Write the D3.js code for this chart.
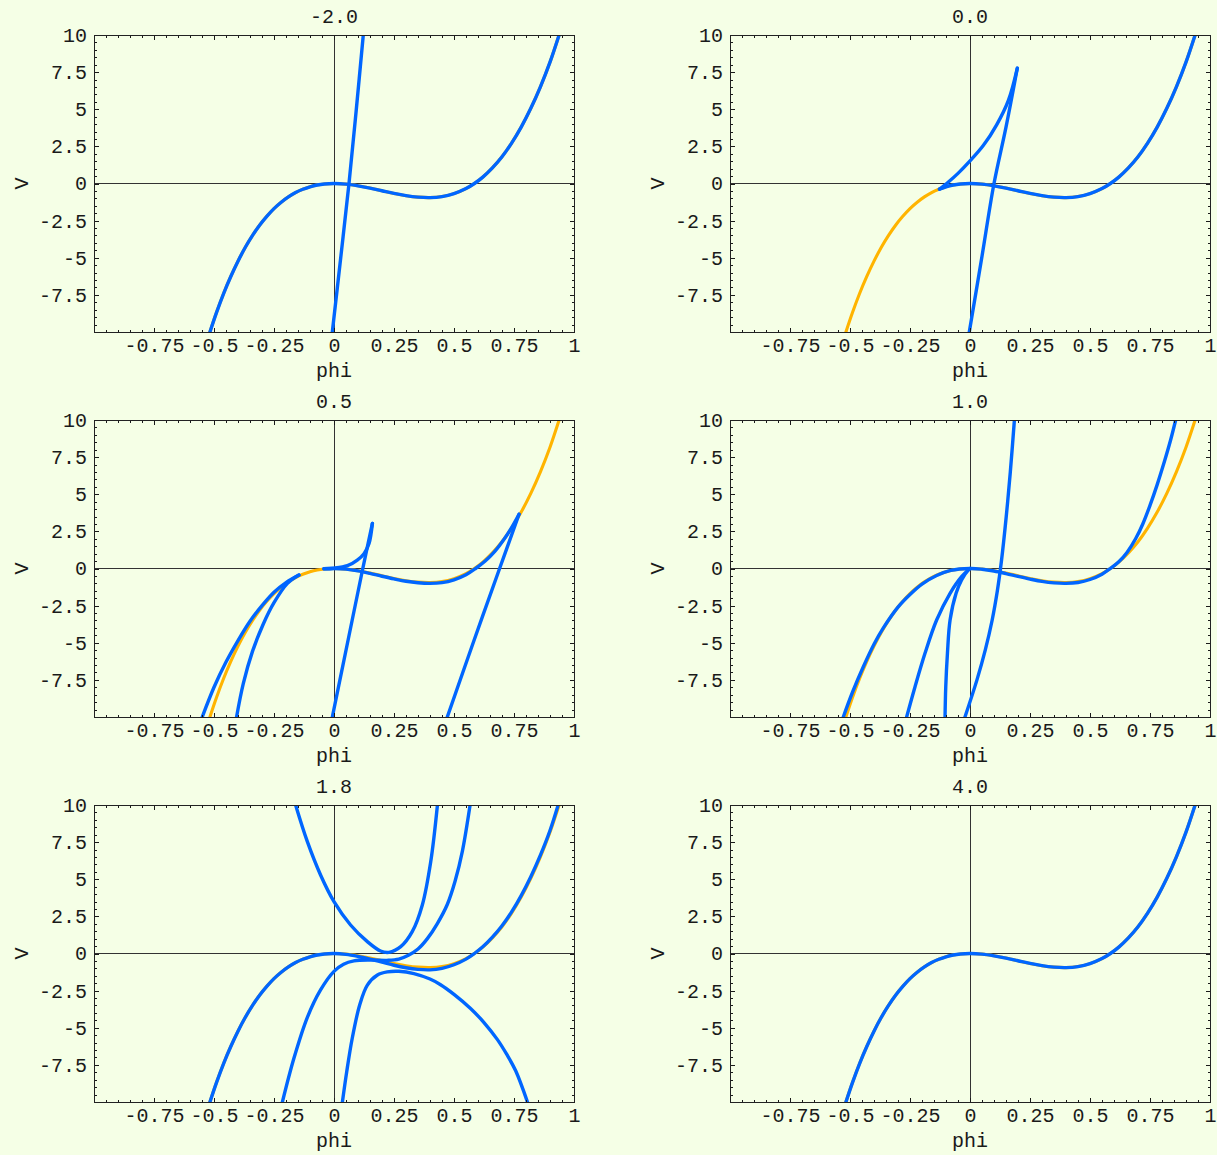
<!DOCTYPE html>
<html>
<head>
<meta charset="utf-8">
<script src="https://cdn.jsdelivr.net/npm/d3@7"></script>
<style>
  body { margin: 0; background: #f5ffe6; }
</style>
</head>
<body>
<div id="chart"></div>
<script>
const width = 1217,
    height = 1155,
    plotW = 480,
    plotH = 297,
    margin = { left: 94, top: 35 },
    colStep = 636,
    rowStep = 385;

const font = "'Liberation Mono', 'Courier New', monospace";
const fontSize = 20;

// tick labels
const phiTicks = [-0.75, -0.5, -0.25, 0, 0.25, 0.5, 0.75, 1];
const vTicks = [-7.5, -5, -2.5, 0, 2.5, 5, 7.5, 10];
const titles = ["-2.0", "0.0", "0.5", "1.0", "1.8", "4.0"];

// the potential V(phi), orange, same in every panel  [phi, V]
const potential = [
    [-0.517, -10], [-0.49, -8.71], [-0.46, -7.41], [-0.43, -6.26], [-0.40, -5.23],
    [-0.37, -4.31], [-0.34, -3.51], [-0.31, -2.81], [-0.28, -2.21], [-0.25, -1.69],
    [-0.22, -1.26], [-0.19, -0.9], [-0.16, -0.61], [-0.13, -0.39], [-0.10, -0.22],
    [-0.07, -0.1], [-0.04, -0.03], [0, 0], [0.05, -0.04], [0.10, -0.155],
    [0.15, -0.31], [0.20, -0.49], [0.25, -0.67], [0.30, -0.82], [0.35, -0.92],
    [0.40, -0.95], [0.45, -0.88], [0.50, -0.68], [0.55, -0.34], [0.585, 0],
    [0.62, 0.43], [0.66, 1.05], [0.70, 1.8], [0.74, 2.72], [0.78, 3.8],
    [0.82, 5.06], [0.86, 6.51], [0.90, 8.17], [0.938, 10]
];

// blue curves, panel by panel
const p1Steep = [[-0.007, -10], [0.028, -5], [0.0625, 0], [0.093, 5], [0.122, 10]];

const p2Upper = [[-0.127, -0.38], [-0.09, 0.1], [-0.05, 0.68], [0, 1.52], [0.056, 2.57],
    [0.111, 3.95], [0.16, 5.6], [0.197, 7.76]];
const p2Lower = [[0.197, 7.76], [0.15, 3.8], [0.1, 0], [0.05, -4.9], [-0.003, -10]];

const p3Main = [[-0.042, -0.02], [0, 0], [0.05, -0.04], [0.10, -0.16], [0.15, -0.33],
    [0.20, -0.52], [0.25, -0.7], [0.30, -0.86], [0.35, -0.96], [0.40, -1.0],
    [0.45, -0.95], [0.50, -0.76], [0.55, -0.42], [0.59, 0], [0.63, 0.5],
    [0.67, 1.15], [0.71, 2.0], [0.74, 2.75], [0.771, 3.65]];
const p3Cusp = [[-0.042, -0.02], [0, 0.02], [0.056, 0.19], [0.097, 0.57], [0.125, 1.0],
    [0.146, 1.68], [0.16, 3.04]];
const p3Steep = [[0.16, 3.04], [0.12, 0], [0.059, -4.8], [-0.007, -10]];
const p3Right = [[0.771, 3.65], [0.69, 0], [0.58, -5], [0.472, -10]];
const p3Outer = [[-0.146, -0.44], [-0.2, -0.95], [-0.25, -1.6], [-0.3, -2.5], [-0.35, -3.55],
    [-0.4, -4.85], [-0.45, -6.3], [-0.5, -8.0], [-0.549, -10]];
const p3Inner = [[-0.146, -0.44], [-0.194, -1.0], [-0.25, -2.3], [-0.295, -3.75],
    [-0.34, -5.6], [-0.378, -7.75], [-0.406, -10]];

const p4Main = [[-0.528, -10], [-0.49, -8.35], [-0.444, -6.6], [-0.4, -5.1], [-0.361, -4.0],
    [-0.3, -2.6], [-0.25, -1.75], [-0.2, -1.05], [-0.139, -0.47], [-0.08, -0.13], [0, 0],
    [0.05, -0.05], [0.1, -0.17], [0.15, -0.34], [0.2, -0.53], [0.25, -0.71], [0.3, -0.87],
    [0.35, -0.97], [0.4, -1.0], [0.45, -0.94], [0.5, -0.74], [0.55, -0.38], [0.585, 0],
    [0.62, 0.45], [0.655, 1.1], [0.69, 2.0], [0.72, 3.0], [0.75, 4.25], [0.78, 5.65],
    [0.81, 7.2], [0.835, 8.6], [0.857, 10]];
const p4B = [[-0.104, -10], [-0.101, -7.96], [-0.094, -5.71], [-0.083, -3.47],
    [-0.058, -1.67], [-0.035, -0.77], [-0.007, -0.1], [0, 0]];
const p4C = [[-0.264, -10], [-0.229, -7.96], [-0.1875, -5.71], [-0.139, -3.47],
    [-0.083, -1.67], [-0.035, -0.55], [0, 0]];
const p4D = [[-0.021, -10], [0.029, -7.5], [0.0635, -5.5], [0.092, -3.5], [0.114, -1.5],
    [0.131, 0.5], [0.151, 3.5], [0.168, 6.5], [0.185, 10]];

const p5Main = [[-0.517, -10], [-0.49, -8.71], [-0.46, -7.41], [-0.43, -6.26], [-0.40, -5.23],
    [-0.37, -4.31], [-0.34, -3.51], [-0.31, -2.81], [-0.28, -2.21], [-0.25, -1.69],
    [-0.22, -1.26], [-0.19, -0.9], [-0.16, -0.61], [-0.13, -0.39], [-0.10, -0.22],
    [-0.07, -0.1], [-0.04, -0.03], [0, 0], [0.05, -0.06], [0.1, -0.2], [0.15, -0.38],
    [0.2, -0.58], [0.25, -0.79], [0.3, -0.96], [0.35, -1.07], [0.4, -1.1], [0.45, -1.0],
    [0.5, -0.76], [0.55, -0.38], [0.585, 0], [0.62, 0.45], [0.66, 1.1], [0.70, 1.87],
    [0.74, 2.8], [0.78, 3.9], [0.82, 5.17], [0.86, 6.62], [0.90, 8.28], [0.934, 10]];
const p5Bowl = [[-0.16, 10], [-0.111, 7.53], [-0.056, 5.29], [0, 3.49], [0.069, 1.92],
    [0.139, 0.8], [0.194, 0.17], [0.229, 0.08], [0.278, 0.46], [0.326, 1.47],
    [0.368, 3.27], [0.403, 6.18], [0.431, 10]];
const p5Mid = [[-0.215, -10], [-0.167, -7.06], [-0.111, -4.3], [-0.056, -2.45], [0, -1.2],
    [0.04, -0.72], [0.083, -0.5], [0.153, -0.44], [0.222, -0.46], [0.27, -0.38],
    [0.31, -0.12], [0.35, 0.3], [0.389, 1.0], [0.43, 2.0], [0.472, 3.3], [0.505, 4.9],
    [0.535, 6.9], [0.567, 10]];
const p5Low = [[0.035, -10], [0.053, -7.96], [0.076, -5.71], [0.107, -3.47], [0.139, -2.13],
    [0.181, -1.45], [0.222, -1.24], [0.27, -1.2], [0.333, -1.35], [0.4, -1.72],
    [0.444, -2.1], [0.5, -2.75], [0.569, -3.7], [0.625, -4.65], [0.681, -5.8],
    [0.72, -6.8], [0.757, -7.9], [0.806, -10]];

const panels = [
    { title: titles[0], blue: [potential, p1Steep] },
    { title: titles[1], blue: [[[-0.127, -0.38]].concat(potential.filter(d => d[0] > -0.12)), p2Upper, p2Lower] },
    { title: titles[2], blue: [p3Main, p3Cusp, p3Steep, p3Right, p3Outer, p3Inner] },
    { title: titles[3], blue: [p4Main, p4B, p4C, p4D] },
    { title: titles[4], blue: [p5Main, p5Bowl, p5Mid, p5Low] },
    { title: titles[5], blue: [potential] }
];

const svg = d3.select("#chart")
    .append("svg")
    .attr("width", width)
    .attr("height", height)

svg.append("rect")
    .attr("width", width)
    .attr("height", height)
    .attr("fill", "#f5ffe6")

const x = d3.scaleLinear().domain([-1, 1]).range([0, plotW]);
const y = d3.scaleLinear().domain([-10, 10]).range([plotH, 0]);

const fmt = d => String(d);
// minor ticks every 0.05 in phi and every 0.5 in V
const xMinor = d3.range(-20, 21).map(i => i / 20).filter(d => Math.abs(d * 4 - Math.round(d * 4)) > 1e-6);
const yMinor = d3.range(-20, 21).map(i => i / 2).filter(d => Math.abs(d / 2.5 - Math.round(d / 2.5)) > 1e-6);

const line = d3.line()
    .curve(d3.curveCatmullRom.alpha(0.5))
    .x(d => x(d[0]))
    .y(d => y(d[1]))

function styleAxis(g) {
    g.select(".domain").remove();
    g.attr("font-family", font).attr("font-size", fontSize).attr("color", "#1a1a1a");
    g.selectAll("line").attr("shape-rendering", "crispEdges");
}

panels.forEach((p, i) => {
    const col = i % 2, row = Math.floor(i / 2);
    const g = svg.append("g")
        .attr("transform", `translate(${margin.left + col * colStep}, ${margin.top + row * rowStep})`)

    g.append("clipPath").attr("id", "clip" + i)
        .append("rect").attr("width", plotW).attr("height", plotH)

    // zero axes
    g.append("line")
        .attr("x1", 0).attr("x2", plotW).attr("y1", y(0)).attr("y2", y(0))
        .attr("stroke", "#333").attr("shape-rendering", "crispEdges")
    g.append("line")
        .attr("x1", x(0)).attr("x2", x(0)).attr("y1", 0).attr("y2", plotH)
        .attr("stroke", "#333").attr("shape-rendering", "crispEdges")

    const curves = g.append("g").attr("clip-path", `url(#clip${i})`);

    curves.append("path")
        .attr("d", line(potential))
        .attr("fill", "none")
        .attr("stroke", "#ffb400")
        .attr("stroke-width", 3.1)
        .attr("stroke-linecap", "round")

    curves.selectAll("path.blue")
        .data(p.blue)
        .join("path")
        .attr("class", "blue")
        .attr("d", d => line(d))
        .attr("fill", "none")
        .attr("stroke", "#0066ff")
        .attr("stroke-width", 3.4)
        .attr("stroke-linecap", "round")
        .attr("stroke-linejoin", "round")

    // frame ticks, pointing inwards on all four sides
    g.append("g").attr("transform", `translate(0, ${plotH})`)
        .call(d3.axisBottom(x).tickValues(phiTicks).tickFormat(fmt).tickSizeInner(-4.5).tickSizeOuter(0).tickPadding(6))
        .call(styleAxis)
    g.append("g").attr("transform", `translate(0, ${plotH})`)
        .call(d3.axisBottom(x).tickValues(xMinor).tickFormat("").tickSizeInner(-2.5).tickSizeOuter(0))
        .call(styleAxis)
    g.append("g")
        .call(d3.axisTop(x).tickValues(phiTicks).tickFormat("").tickSizeInner(-4.5).tickSizeOuter(0))
        .call(styleAxis)
    g.append("g")
        .call(d3.axisTop(x).tickValues(xMinor).tickFormat("").tickSizeInner(-2.5).tickSizeOuter(0))
        .call(styleAxis)
    g.append("g")
        .call(d3.axisLeft(y).tickValues(vTicks).tickFormat(fmt).tickSizeInner(-4.5).tickSizeOuter(0).tickPadding(7))
        .call(styleAxis)
    g.append("g")
        .call(d3.axisLeft(y).tickValues(yMinor).tickFormat("").tickSizeInner(-2.5).tickSizeOuter(0))
        .call(styleAxis)
    g.append("g").attr("transform", `translate(${plotW}, 0)`)
        .call(d3.axisRight(y).tickValues(vTicks).tickFormat("").tickSizeInner(-4.5).tickSizeOuter(0))
        .call(styleAxis)
    g.append("g").attr("transform", `translate(${plotW}, 0)`)
        .call(d3.axisRight(y).tickValues(yMinor).tickFormat("").tickSizeInner(-2.5).tickSizeOuter(0))
        .call(styleAxis)

    g.append("rect")
        .attr("width", plotW).attr("height", plotH)
        .attr("fill", "none").attr("stroke", "#222")
        .attr("shape-rendering", "crispEdges")

    g.append("text")
        .text(p.title)
        .attr("x", plotW / 2).attr("y", -12)
        .attr("text-anchor", "middle")
        .attr("font-family", font).attr("font-size", fontSize).attr("fill", "#1a1a1a")

    g.append("text")
        .text("phi")
        .attr("x", plotW / 2).attr("y", plotH + 45)
        .attr("text-anchor", "middle")
        .attr("font-family", font).attr("font-size", fontSize).attr("fill", "#1a1a1a")

    g.append("text")
        .text("V")
        .attr("transform", `translate(${-66}, ${plotH / 2})rotate(-90)`)
        .attr("text-anchor", "middle")
        .attr("font-family", font).attr("font-size", fontSize).attr("fill", "#1a1a1a")
})
</script>
</body>
</html>
